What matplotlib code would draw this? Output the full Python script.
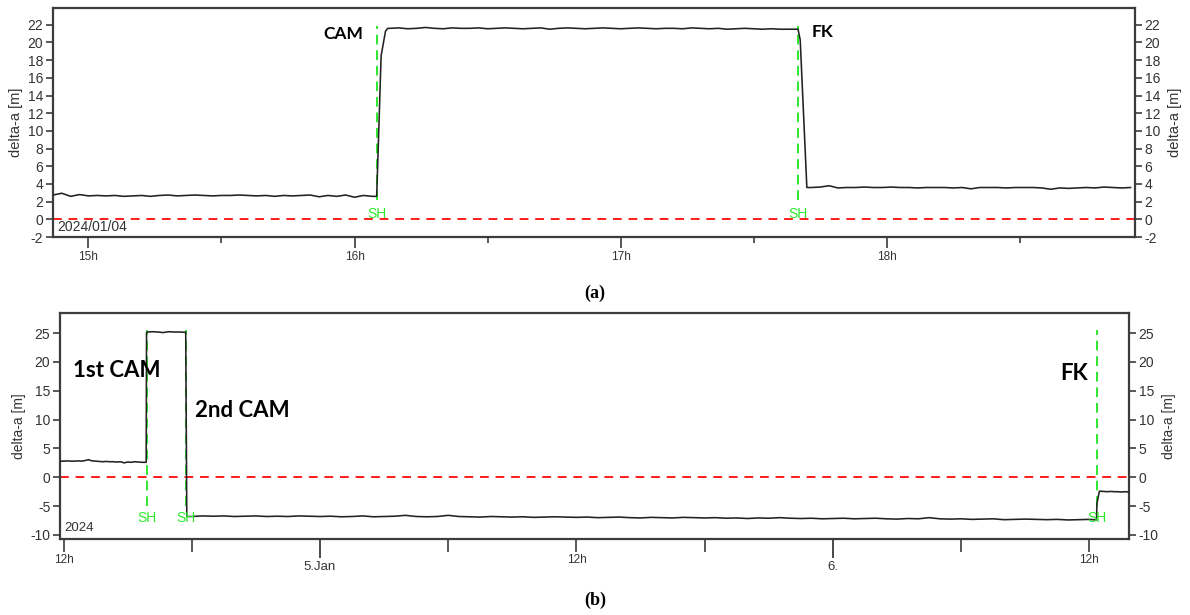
import pandas as pd
import matplotlib
matplotlib.use("Agg")
import matplotlib.pyplot as plt
import matplotlib.dates as mdates
from matplotlib.ticker import FuncFormatter

plt.rcParams['font.family'] = ['Liberation Sans', 'DejaVu Sans']
plt.rcParams['axes.unicode_minus'] = False

# ---- (a) single manoeuvre day, 2 min samples ----
a_pre_start = "2024-01-04 14:52"
a_pre = [2.75, 2.95, 2.6, 2.8, 2.65, 2.7, 2.65, 2.7, 2.6, 2.65, 2.7, 2.6, 2.7,
         2.75, 2.65, 2.7, 2.75, 2.7, 2.65, 2.7, 2.7, 2.75, 2.7, 2.65, 2.7, 2.6,
         2.7, 2.65, 2.7, 2.75, 2.55, 2.7, 2.6, 2.75, 2.5, 2.7, 2.6]
a_rise_t = ["2024-01-04 16:05:00", "2024-01-04 16:06:00", "2024-01-04 16:07:00", "2024-01-04 16:07:30"]
a_rise_v = [2.6, 18.5, 21.3, 21.6]
a_top_start = "2024-01-04 16:08"
a_top = [21.6, 21.65, 21.55, 21.6, 21.7, 21.6, 21.55, 21.65, 21.6, 21.6, 21.65,
         21.55, 21.6, 21.65, 21.6, 21.55, 21.6, 21.65, 21.5, 21.6, 21.65, 21.6,
         21.55, 21.6, 21.65, 21.6, 21.55, 21.6, 21.65, 21.6, 21.55, 21.6, 21.6,
         21.55, 21.65, 21.6, 21.55, 21.6, 21.5, 21.55, 21.6, 21.55, 21.5, 21.55,
         21.5, 21.5]
a_drop_t = ["2024-01-04 17:40:00", "2024-01-04 17:40:30", "2024-01-04 17:42:00"]
a_drop_v = [21.5, 20.3, 3.6]
a_post_start = "2024-01-04 17:43"
a_post = [3.6, 3.65, 3.8, 3.55, 3.6, 3.6, 3.65, 3.6, 3.6, 3.65, 3.6, 3.6, 3.55,
          3.6, 3.6, 3.6, 3.55, 3.6, 3.45, 3.6, 3.6, 3.6, 3.55, 3.6, 3.6, 3.6,
          3.55, 3.4, 3.55, 3.5, 3.55, 3.6, 3.55, 3.65, 3.6, 3.55, 3.6]
a_events = ["2024-01-04 16:05", "2024-01-04 17:40"]

# ---- (b) two-day overview ----
b_pre_start = "2024-01-04 11:50"
b_pre = [2.8, 2.8, 2.85, 2.8, 2.8, 2.85, 2.8, 2.9, 3.05, 2.85, 2.8, 2.75, 2.7,
         2.75, 2.7, 2.7, 2.65, 2.7, 2.5, 2.65, 2.6, 2.7, 2.65, 2.6, 2.6]
b_up_t = ["2024-01-04 15:52", "2024-01-04 15:53"]
b_up_v = [2.6, 25.1]
b_top_start = "2024-01-04 15:55"
b_top = [25.2, 25.25, 25.2, 25.1, 25.25, 25.2, 25.2, 25.15]
b_down_t = ["2024-01-04 17:43", "2024-01-04 17:46"]
b_down_v = [25.2, -6.8]
b_low_start = "2024-01-04 18:00"
b_low = [-6.8, -6.7, -6.75, -6.7, -6.8, -6.75, -6.7, -6.8, -6.75, -6.8, -6.7, -6.75,
         -6.8, -6.75, -6.85, -6.8, -6.7, -6.85, -6.8, -6.75, -6.6, -6.8, -6.85, -6.8,
         -6.6, -6.8, -6.85, -6.9, -6.8, -6.85, -6.9, -6.85, -6.95, -6.9, -6.85, -6.9,
         -6.95, -6.9, -7.0, -6.95, -6.9, -7.0, -7.05, -6.95, -7.0, -7.05, -6.95, -7.0,
         -7.05, -7.0, -7.1, -7.05, -7.15, -7.05, -7.1, -7.0, -7.1, -7.15, -7.1, -7.2,
         -7.15, -7.1, -7.2, -7.15, -7.1, -7.2, -7.25, -7.15, -7.2, -7.0, -7.2, -7.25,
         -7.2, -7.3, -7.25, -7.2, -7.35, -7.3, -7.25, -7.3, -7.35, -7.3, -7.4, -7.35, -7.3]
b_fk_t = ["2024-01-06 12:20", "2024-01-06 12:21", "2024-01-06 12:28"]
b_fk_v = [-7.4, -4.6, -2.4]
b_end_start = "2024-01-06 12:40"
b_end = [-2.45, -2.5, -2.45, -2.5, -2.5, -2.55, -2.5, -2.55]
b_events = ["2024-01-04 15:53", "2024-01-04 17:43", "2024-01-06 12:21"]


def sampled(start, values, step):
    return pd.Series(values, index=pd.date_range(start, periods=len(values), freq=step))


def explicit(times, values):
    return pd.Series(values, index=pd.to_datetime(times))


trace_a = pd.concat([sampled(a_pre_start, a_pre, "2min"), explicit(a_rise_t, a_rise_v),
                     sampled(a_top_start, a_top, "2min"), explicit(a_drop_t, a_drop_v),
                     sampled(a_post_start, a_post, "2min")])
trace_b = pd.concat([sampled(b_pre_start, b_pre, "10min"), explicit(b_up_t, b_up_v),
                     sampled(b_top_start, b_top, "15min"), explicit(b_down_t, b_down_v),
                     sampled(b_low_start, b_low, "30min"), explicit(b_fk_t, b_fk_v),
                     sampled(b_end_start, b_end, "10min")])

frame = '#3c3c3c'
txt = '#333333'
green = '#2ee82e'
bold_font = ['Lato', 'DejaVu Sans']

fig = plt.figure(figsize=(11.9, 6.15), dpi=100)
ax_a = fig.add_axes([0.0445, 0.6146, 0.9093, 0.3724])
ax_b = fig.add_axes([0.0504, 0.1236, 0.8983, 0.3675])


def style_axes(ax, ylabel_size, right_pad):
    for s in ax.spines.values():
        s.set_color(frame)
        s.set_linewidth(1.6)
    ax.tick_params(axis='y', which='both', direction='out', left=True, right=True,
                   labelleft=True, labelright=True, length=5, width=1.2,
                   color=frame, labelcolor=txt, labelsize=10, pad=2)
    ax.set_ylabel('delta-a [m]', fontsize=ylabel_size, color=txt, labelpad=3)
    right = ax.secondary_yaxis('right')
    right.set_yticks([])
    right.spines['right'].set_visible(False)
    right.set_ylabel('delta-a [m]', fontsize=ylabel_size, color=txt, labelpad=right_pad)
    ax.axhline(0, color='#ff1a1a', lw=1.4, ls=(0, (4.5, 3.5)), zorder=1)


# (a)
ax_a.plot(trace_a.index, trace_a.values, color='#222222', lw=1.15, zorder=3)
ax_a.set_xlim(pd.Timestamp("2024-01-04 14:52"), pd.Timestamp("2024-01-04 18:56"))
ax_a.set_ylim(-2, 23.9)
ax_a.set_yticks(range(-2, 23, 2))
style_axes(ax_a, 10.5, 24)
ax_a.xaxis.set_major_locator(mdates.HourLocator())
ax_a.xaxis.set_major_formatter(mdates.DateFormatter('%Hh'))
ax_a.xaxis.set_minor_locator(mdates.MinuteLocator(byminute=[30]))
ax_a.tick_params(axis='x', which='major', length=8, width=1.2, color=frame,
                 labelcolor=txt, labelsize=8.5, pad=2)
ax_a.tick_params(axis='x', which='minor', length=4, width=1.2, color=frame)
for t in a_events:
    ts = pd.Timestamp(t)
    ax_a.vlines(ts, 2.2, 21.9, color=green, lw=1.4, ls=(0, (5, 3)), zorder=2)
    ax_a.text(ts, 0.65, 'SH', color=green, fontsize=10, ha='center', va='center', zorder=4)
ax_a.text(pd.Timestamp("2024-01-04 16:02"), 21.0, 'CAM', fontsize=12.5, fontweight='bold',
          family=bold_font, ha='right', va='center')
ax_a.text(pd.Timestamp("2024-01-04 17:43"), 21.2, 'FK', fontsize=12.5, fontweight='bold',
          family=bold_font, ha='left', va='center')
ax_a.text(0.004, 0.045, '2024/01/04', transform=ax_a.transAxes, fontsize=10,
          color=txt, ha='left', va='center')

# (b)
ax_b.plot(trace_b.index, trace_b.values, color='#222222', lw=1.15, zorder=3)
ax_b.set_xlim(pd.Timestamp("2024-01-04 11:50"), pd.Timestamp("2024-01-06 13:51"))
ax_b.set_ylim(-10.7, 28.5)
ax_b.set_yticks(range(-10, 26, 5))
style_axes(ax_b, 10, 24)


def day_label(x, pos):
    d = mdates.num2date(x)
    return '%d.Jan' % d.day if d.day == 5 else '%d.' % d.day


def hour_label(x, pos):
    d = mdates.num2date(x)
    return '12h' if d.hour == 12 else ''


ax_b.xaxis.set_major_locator(mdates.DayLocator())
ax_b.xaxis.set_major_formatter(FuncFormatter(day_label))
ax_b.xaxis.set_minor_locator(mdates.HourLocator(byhour=[6, 12, 18]))
ax_b.xaxis.set_minor_formatter(FuncFormatter(hour_label))
ax_b.tick_params(axis='x', which='major', length=14, width=1.3, color=frame,
                 labelcolor=txt, labelsize=9.5, pad=2)
ax_b.tick_params(axis='x', which='minor', length=9, width=1.2, color=frame,
                 labelcolor=txt, labelsize=8.5, pad=2)
for t in b_events:
    ts = pd.Timestamp(t)
    ax_b.vlines(ts, -5.0, 25.5, color=green, lw=1.4, ls=(0, (5, 3)), zorder=2)
    ax_b.text(ts, -7.1, 'SH', color=green, fontsize=10, ha='center', va='center', zorder=4)
ax_b.text(pd.Timestamp("2024-01-04 12:27"), 18.6, '1st CAM', fontsize=16, fontweight='bold',
          family=bold_font, ha='left', va='center')
ax_b.text(pd.Timestamp("2024-01-04 18:09"), 11.5, '2nd CAM', fontsize=16, fontweight='bold',
          family=bold_font, ha='left', va='center')
ax_b.text(pd.Timestamp("2024-01-06 11:56"), 18.0, 'FK', fontsize=16, fontweight='bold',
          family=bold_font, ha='right', va='center')
ax_b.text(0.004, 0.05, '2024', transform=ax_b.transAxes, fontsize=9.5,
          color=txt, ha='left', va='center')

serif = ['Liberation Serif', 'DejaVu Serif']
fig.text(0.5, 0.5236, '(a)', fontsize=13, fontweight='bold', family=serif, ha='center', va='center')
fig.text(0.5, 0.0244, '(b)', fontsize=13, fontweight='bold', family=serif, ha='center', va='center')

fig.savefig('out.png', dpi=100, facecolor='white')
